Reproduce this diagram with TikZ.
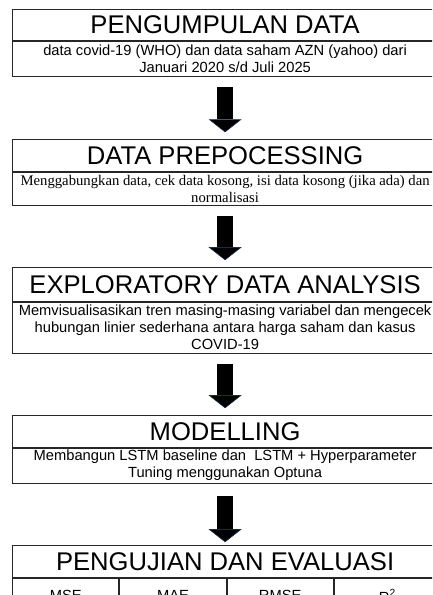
\documentclass[tikz,border=0pt]{standalone}
\usepackage{fontspec}
\setmainfont{Liberation Sans}
\newfontfamily\timesfont{Liberation Serif}
\usepackage{tikz}
\usetikzlibrary{positioning,arrows.meta}
\definecolor{rule}{HTML}{262626}
\definecolor{edge}{HTML}{1C2B4A}
\tikzset{
  ttl/.style={draw=rule, line width=1pt, minimum width=424.8pt, minimum height=31.4pt, inner sep=0pt, font=\fontsize{25.6}{30}\selectfont},
  txt/.style={draw=rule, line width=1pt, minimum width=424.8pt, inner sep=0pt, align=center, font=\fontsize{14.7}{17}\selectfont},
  cell/.style={draw=rule, line width=1pt, minimum width=106.2pt, minimum height=35pt, inner sep=0pt, font=\fontsize{14.7}{17}\selectfont},
  flow/.style={line width=16pt, black, -{Triangle[width=33pt,length=13pt,line width=0.6pt,color=edge,fill=black]}, shorten <=10pt, shorten >=7pt}
}
\begin{document}
\begin{tikzpicture}[x=1pt, y=-1pt]
\useasboundingbox (0,0) rectangle (432,595);
\clip (0,0) rectangle (432,595);
\node[ttl] (t1) at (225.1,25) {PENGUMPULAN DATA};
\node[txt, below=0pt of t1, minimum height=34.6pt] (d1) {data covid-19 (WHO) dan data saham AZN (yahoo) dari\\Januari 2020 s/d Juli 2025};
\node[ttl] (t2) at (225.1,155.5) {DATA PREPOCESSING};
\node[txt, below=0pt of t2, minimum height=33pt, font=\timesfont\fontsize{14.7}{17}\selectfont] (d2) {Menggabungkan data, cek data kosong, isi data kosong (jika ada) dan\\normalisasi};
\node[ttl, minimum height=33.3pt] (t3) at (225.1,284.35) {EXPLORATORY DATA ANALYSIS};
\node[txt, below=0pt of t3, minimum height=51pt] (d3) {Memvisualisasikan tren masing-masing variabel dan mengecek\\hubungan linier sederhana antara harga saham dan kasus\\COVID-19};
\node[ttl, minimum height=31.3pt] (t4) at (225.1,431.35) {MODELLING};
\node[txt, below=0pt of t4, minimum height=35pt] (d4) {Membangun LSTM baseline dan \ LSTM + Hyperparameter\\Tuning menggunakan Optuna};
\node[ttl, minimum height=31.6pt] (t5) at (225.1,561.5) {PENGUJIAN DAN EVALUASI};
\node[cell, anchor=north west] (c1) at (t5.south west) {MSE};
\node[cell, right=0pt of c1] (c2) {MAE};
\node[cell, right=0pt of c2] (c3) {RMSE};
\node[cell, right=0pt of c3] (c4) {R\textsuperscript{2}};
\draw[flow] (d1.south) -- (t2.north);
\draw[flow] (d2.south) -- (t3.north);
\draw[flow] (d3.south) -- (t4.north);
\draw[flow, shorten <=12pt, shorten >=3pt] (d4.south) -- (t5.north);
\end{tikzpicture}
\end{document}
